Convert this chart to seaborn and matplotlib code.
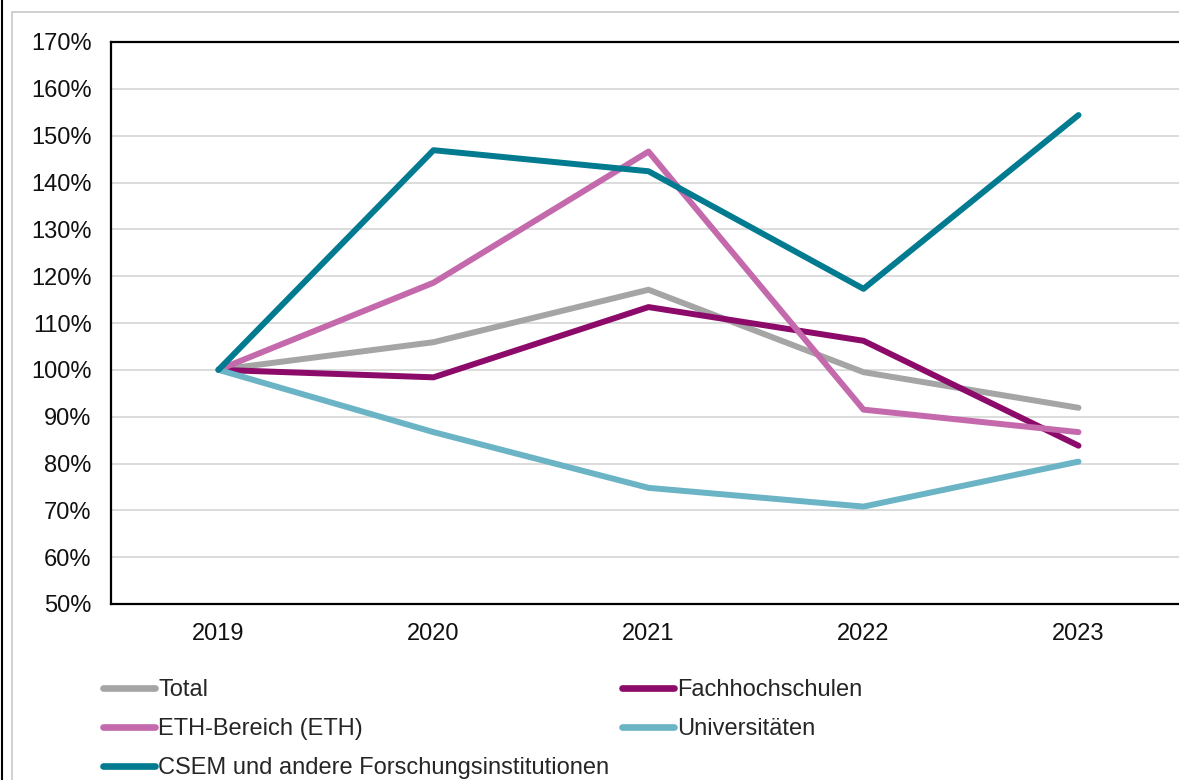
import pandas as pd
import matplotlib.pyplot as plt
import seaborn as sns
from matplotlib.lines import Line2D
from matplotlib.patches import Rectangle
from matplotlib.ticker import PercentFormatter

# === Data (index, 2019 = 100%) ===
years = ["2019", "2020", "2021", "2022", "2023"]
total = [100, 105.9, 117.1, 99.5, 91.9]
fachhochschulen = [100, 98.4, 113.4, 106.2, 83.8]
eth_bereich = [100, 118.6, 146.6, 91.5, 86.7]
universitaeten = [100, 86.7, 74.8, 70.8, 80.4]
csem = [100, 146.9, 142.4, 117.3, 154.4]

series_names = ["Total", "Fachhochschulen", "ETH-Bereich (ETH)", "Universitäten",
                "CSEM und andere Forschungsinstitutionen"]
series_values = [total, fachhochschulen, eth_bereich, universitaeten, csem]
series_colors = ["#a5a5a5", "#8c0a6a", "#c46aac", "#6bb4c5", "#027b90"]
legend_order = ["Total", "ETH-Bereich (ETH)", "CSEM und andere Forschungsinstitutionen",
                "Fachhochschulen", "Universitäten"]

rows = []
for name, vals in zip(series_names, series_values):
    for y, v in zip(years, vals):
        rows.append({"Jahr": y, "Wert": v, "Serie": name})
df = pd.DataFrame(rows)

# === Style ===
sns.set_style("white")
plt.rcParams["font.family"] = ["Liberation Sans", "DejaVu Sans"]

fig = plt.figure(figsize=(11.79, 7.80), dpi=100)
ax = fig.add_axes([111 / 1179, 1 - 604 / 780, 1075 / 1179, 562 / 780])

palette = dict(zip(series_names, series_colors))
sns.lineplot(data=df, x="Jahr", y="Wert", hue="Serie", hue_order=series_names,
             palette=palette, linewidth=4.3, solid_capstyle="round",
             sort=False, legend=False, ax=ax, zorder=3)

# === Axes ===
ax.set_xlim(-0.5, 4.5)
ax.set_ylim(50, 170)
ax.set_yticks(range(50, 171, 10))
ax.yaxis.set_major_formatter(PercentFormatter(decimals=0))
ax.grid(axis="y", color="#d9d9d9", linewidth=1.3, zorder=0)
ax.grid(axis="x", visible=False)
ax.set_xlabel("")
ax.set_ylabel("")
ax.tick_params(axis="both", length=0, labelsize=17, colors="#111111")
ax.tick_params(axis="y", pad=14)
ax.tick_params(axis="x", pad=14)
for side in ["top", "left", "bottom"]:
    ax.spines[side].set_color("black")
    ax.spines[side].set_linewidth(1.6)
ax.spines["right"].set_visible(False)

# === Legend ===
handles = [Line2D([0], [0], color=palette[n], linewidth=4.8, solid_capstyle="round")
           for n in legend_order]
fig.legend(handles, legend_order, ncol=2, loc="upper left",
           bbox_to_anchor=(94 / 1179, 1 - 670 / 780), frameon=False,
           fontsize=17, handlelength=2.2, handletextpad=0.12,
           columnspacing=0.55, labelspacing=0.72, borderaxespad=0)

# === Frame of the source graphic ===
fig.patches.append(Rectangle((12 / 1179, -0.1), 1.2, (780 - 12) / 780 + 0.1,
                             transform=fig.transFigure, fill=False,
                             edgecolor="#c8c8c8", linewidth=1.2, zorder=0))
fig.lines.append(Line2D([2 / 1179, 2 / 1179], [0, 1], transform=fig.transFigure,
                        color="black", linewidth=1.5))

fig.savefig("out.png", dpi=100)
